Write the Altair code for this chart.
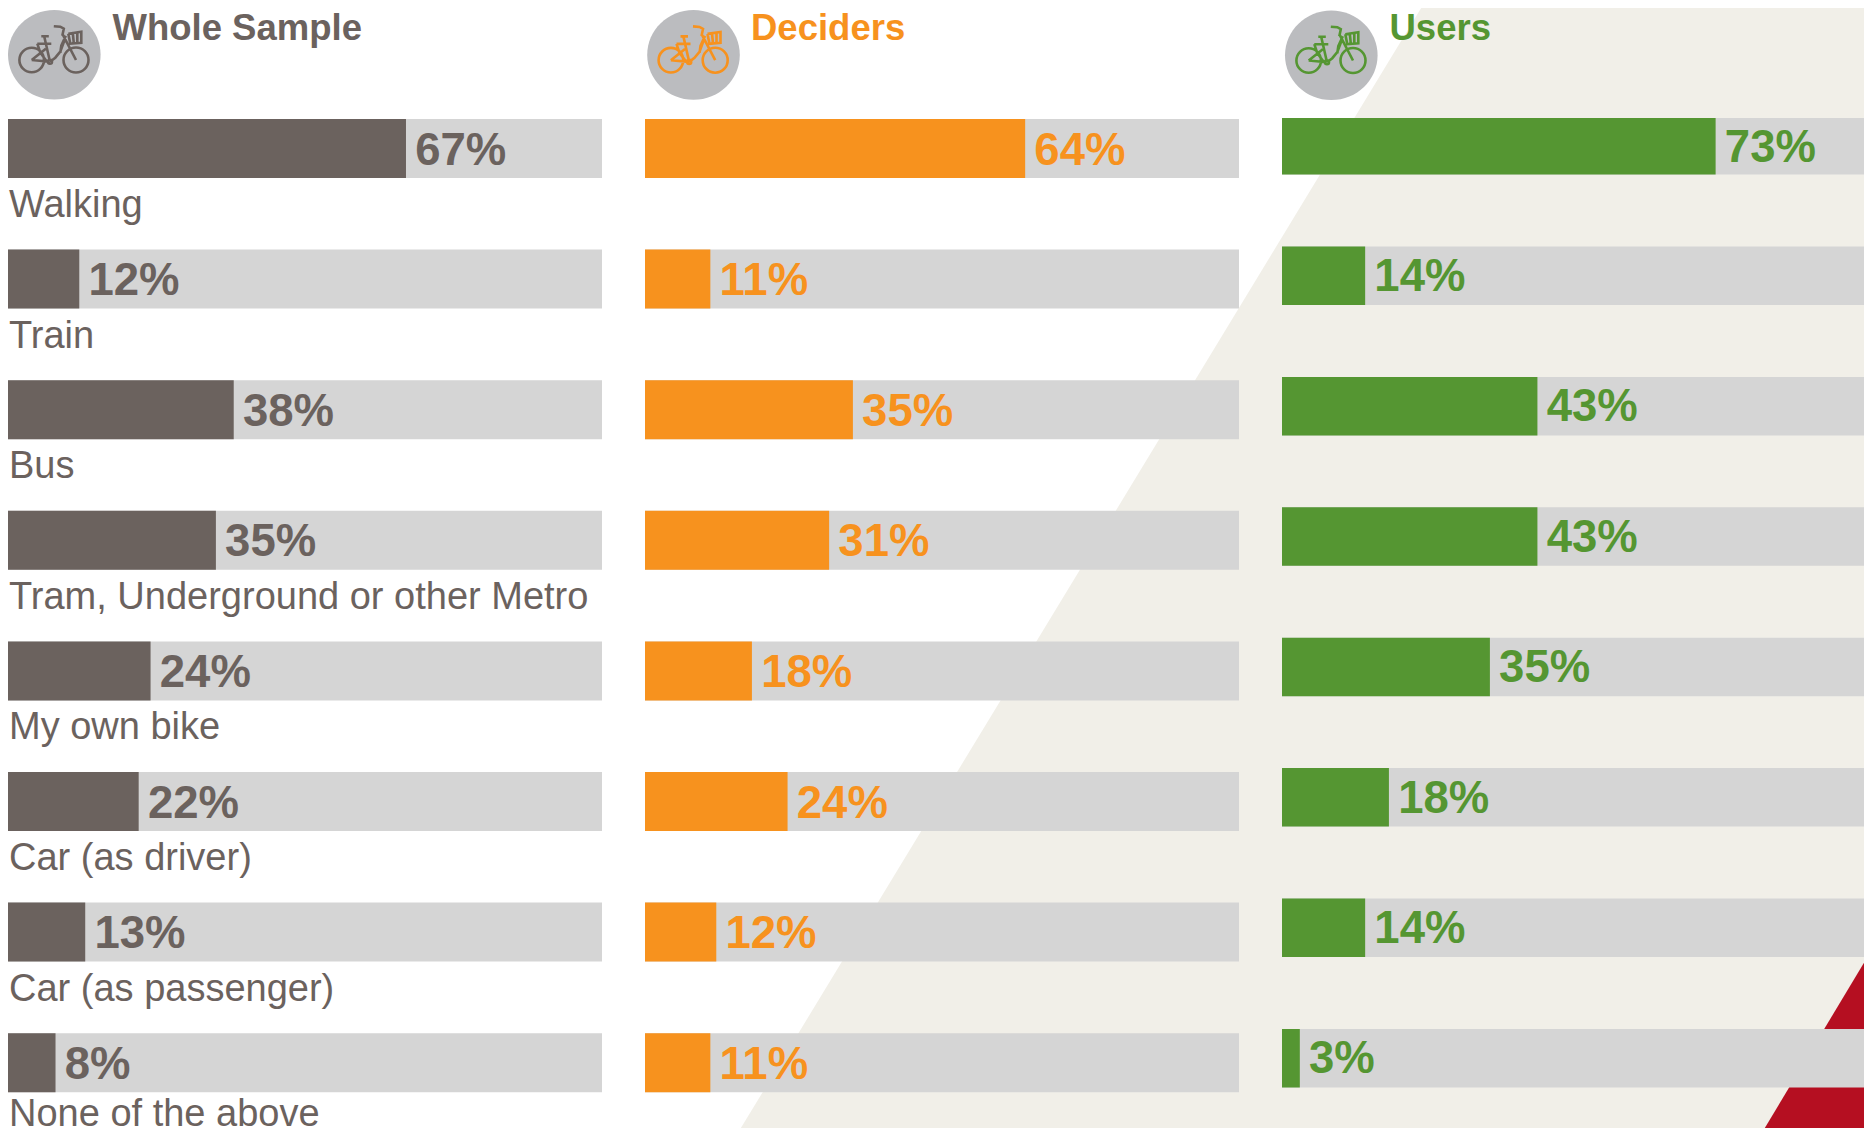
import altair as alt
import pandas as pd

categories = ["Walking", "Train", "Bus", "Tram, Underground or other Metro",
              "My own bike", "Car (as driver)", "Car (as passenger)", "None of the above"]
whole_sample = [67, 12, 38, 35, 24, 22, 13, 8]
deciders = [64, 11, 35, 31, 18, 24, 12, 11]
users = [73, 14, 43, 43, 35, 18, 14, 3]
panel_names = ["Whole Sample", "Deciders", "Users"]
panel_values = [whole_sample, deciders, users]
panel_colors = ["#6B625E", "#F7921E", "#559632"]

GREY_TEXT = "#6B625E"
TRACK = "#D5D5D5"
BEIGE = "#F1EFE8"
RED = "#B50F21"
DISC = "#BBBCBF"
FONT = "Liberation Sans"

W, H = 1856, 1120
PX = 5.94  # pixels per percentage point
MARGIN = 8

panel_left = [8, 645, 1282]
row_tops = [
    [119 + 130.6 * i for i in range(8)],
    [119 + 130.6 * i for i in range(8)],
    [118] + [246.5 + 130.4 * i for i in range(7)],
]
row_heights = [
    [59] * 8,
    [59] * 8,
    [56.5] + [58.5] * 7,
]
label_rise = [16.0, 16.0, 15.3]
title_x = [112.5, 751, 1389.5]
title_base = [39.5, 39.5, 39.5]
icon_center = [(54.3, 54.7), (693.5, 54.9), (1331.3, 55.2)]


def ux(px):
    return (px - MARGIN) / PX


def uy(px):
    return px - MARGIN


bars = []
for p, vals in enumerate(panel_values):
    for r, v in enumerate(vals):
        top = row_tops[p][r]
        h = row_heights[p][r]
        bars.append(dict(
            panel=panel_names[p],
            value=v,
            label=f"{v}%",
            x0=ux(panel_left[p]),
            x1=ux(panel_left[p]) + v,
            x100=ux(panel_left[p]) + 100,
            xt=ux(panel_left[p]) + v + 1.55,
            y0=uy(top),
            y1=uy(top + h),
            yt=uy(top + h / 2 + label_rise[p]),
        ))
bars = pd.DataFrame(bars)

cats = pd.DataFrame(dict(
    category=categories,
    x=[ux(9)] * 8,
    y=[uy(min(row_tops[0][i] + 98, 1126)) for i in range(8)],
))

titles = pd.DataFrame(dict(
    name=panel_names,
    x=[ux(v) for v in title_x],
    y=[uy(v) for v in title_base],
))

icons = pd.DataFrame(dict(
    name=panel_names,
    x=[ux(c[0]) for c in icon_center],
    y=[uy(c[1]) for c in icon_center],
))

beige = pd.DataFrame(dict(
    x=[ux(736), ux(1426), ux(1880)],
    y=[uy(1136), uy(0), uy(0)],
    y2=[uy(1136)] * 3,
))
red = pd.DataFrame(dict(
    x=[ux(1760), ux(1880)],
    y=[uy(1136), uy(936)],
    y2=[uy(1136)] * 2,
))

xs = alt.Scale(domain=[0, W / PX], range=[0, W], nice=False, zero=False)
ys = alt.Scale(domain=[0, H], range=[0, H], nice=False, zero=False)


def X(f):
    return alt.X(f"{f}:Q", scale=xs, axis=None)


def Y(f):
    return alt.Y(f"{f}:Q", scale=ys, axis=None)


color_scale = alt.Scale(domain=panel_names, range=panel_colors)
col = alt.Color("panel:N", scale=color_scale, legend=None)
col_name = alt.Color("name:N", scale=color_scale, legend=None)


# bicycle glyph, as offsets in pixels from the disc centre, in a 100-pixel symbol
def seg(*pts):
    s = ""
    for i, (a, b) in enumerate(pts):
        s += ("M" if i == 0 else "L") + f"{a / 50:.3f},{b / 50:.3f}"
    return s


def wheel(cx, cy, r):
    a, b, c = cx / 50, cy / 50, r / 50
    return (f"M{a - c:.3f},{b:.3f}A{c:.3f},{c:.3f},0,1,1,{a + c:.3f},{b:.3f}"
            f"A{c:.3f},{c:.3f},0,1,1,{a - c:.3f},{b:.3f}Z")


BIKE = "".join([
    wheel(-22.6, 5.3, 12.3),
    wheel(21.7, 5.3, 12.5),
    wheel(-4.3, 7.0, 2.0),
    seg((-17, -11), (-3, -11)),                     # rack
    seg((-13, -18.5), (-5.5, -18.5)),               # saddle
    seg((-10, -18), (-4.3, 7)),                     # seat post
    seg((-22.6, 5.3), (-4.3, 7)),                   # chain stay
    seg((-22.6, 5.3), (-8.5, -6)),                  # seat stay
    seg((-17, -11), (-14, -2), (-8, 6)),            # rack stay
    seg((-4.3, 7), (1, 3), (6, -3), (10, -14)),     # down tube
    seg((6, -2), (7, -9), (11.5, -19)),             # top tube
    seg((8.5, -20), (21.7, 5.3)),                   # fork
    seg((-0.5, -28.5), (6, -28), (9.5, -26), (8, -19)),  # handlebar
    seg((14, -21), (27, -23), (27, -12), (16, -11), (14, -21)),  # basket
    seg((18.5, -21.5), (19.5, -11.5)),
    seg((23, -22), (23, -12)),
])
DISC_PATH = "M-1,0A1,0.968,0,1,1,1,0A1,0.968,0,1,1,-1,0Z"

layers = [
    alt.Chart(beige).mark_area(color=BEIGE, orient="vertical", clip=True).encode(
        x=X("x"), y=Y("y"), y2="y2:Q"),
    alt.Chart(red).mark_area(color=RED, orient="vertical", clip=True).encode(
        x=X("x"), y=Y("y"), y2="y2:Q"),
    alt.Chart(bars).mark_rect(color=TRACK, clip=True).encode(
        x=X("x0"), x2="x100:Q", y=Y("y0"), y2="y1:Q"),
    alt.Chart(bars).mark_rect().encode(
        x=X("x0"), x2="x1:Q", y=Y("y0"), y2="y1:Q", color=col),
    alt.Chart(bars).mark_text(align="left", baseline="alphabetic", font=FONT,
                              fontWeight="bold", fontSize=45.5).encode(
        x=X("xt"), y=Y("yt"), text="label:N", color=col),
    alt.Chart(cats).mark_text(align="left", baseline="alphabetic", font=FONT,
                              fontSize=38, color=GREY_TEXT).encode(
        x=X("x"), y=Y("y"), text="category:N"),
    alt.Chart(titles).mark_text(align="left", baseline="alphabetic", font=FONT,
                                fontWeight="bold", fontSize=36.5).encode(
        x=X("x"), y=Y("y"), text="name:N", color=col_name),
    alt.Chart(icons).mark_point(shape=DISC_PATH, size=92.6 ** 2, filled=True,
                                fill=DISC, opacity=1, strokeWidth=0).encode(
        x=X("x"), y=Y("y")),
    alt.Chart(icons).mark_point(shape=BIKE, size=100 ** 2, filled=False, fill="transparent",
                                opacity=1, strokeWidth=2.6).encode(
        x=X("x"), y=Y("y"), stroke=alt.Stroke("name:N", scale=color_scale, legend=None)),
]

chart = alt.layer(*layers).properties(
    width=W, height=H, padding=0, background="white",
    autosize=alt.AutoSizeParams(type="none"),
).configure_view(strokeWidth=0)

chart.save("out.html", embed_options={"renderer": "svg", "actions": False})
